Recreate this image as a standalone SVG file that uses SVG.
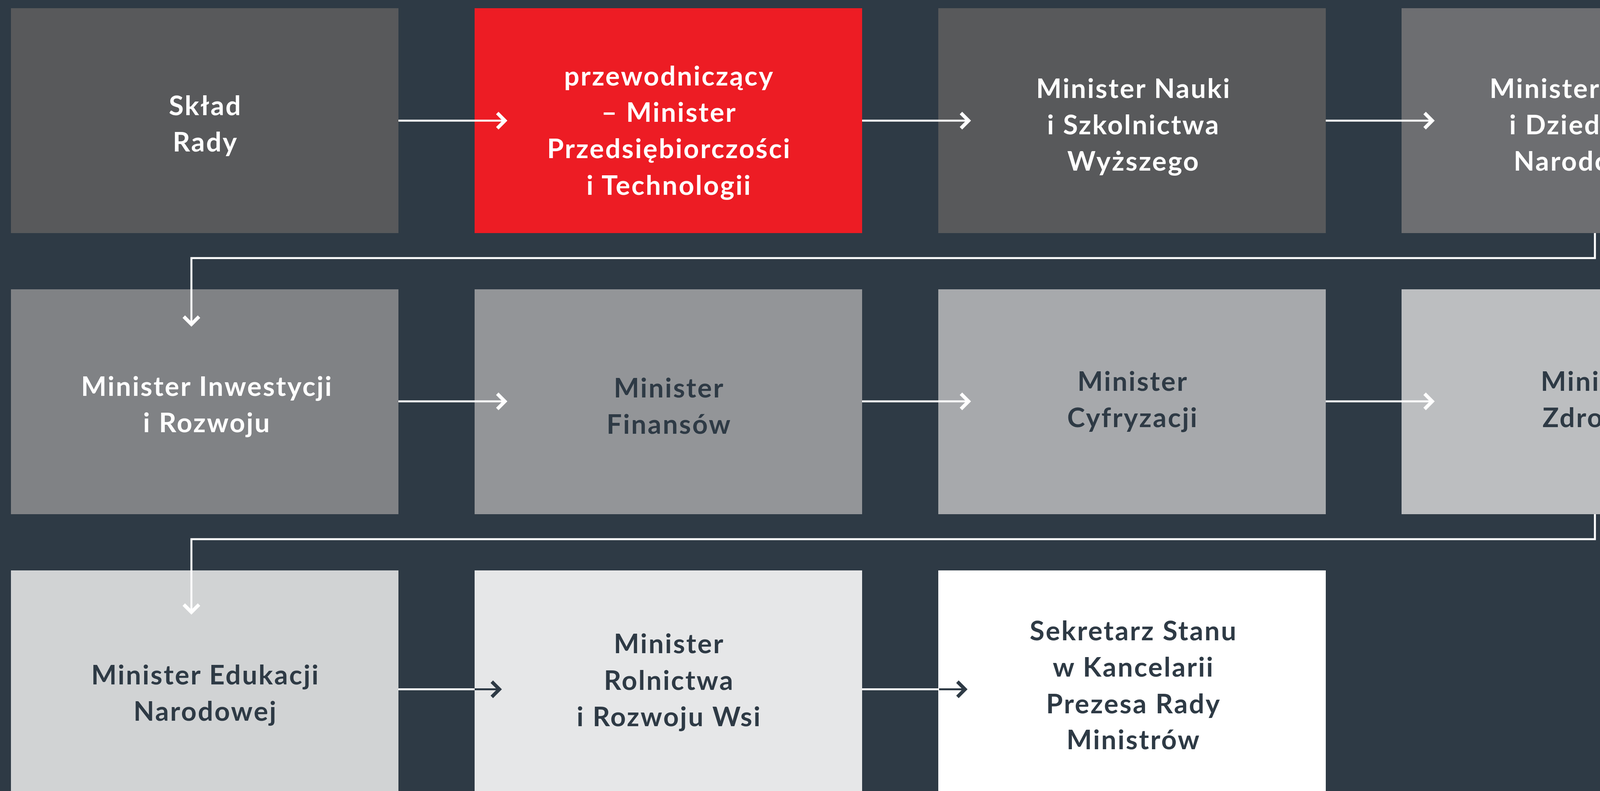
<svg xmlns="http://www.w3.org/2000/svg" width="4541" height="2026" viewBox="0 0 4541 2026">
  <defs>
    <style>
      .bg { fill: #2e3a45; }
      .t { font-family: Lato, "Open Sans", "Liberation Sans", sans-serif; font-weight: 700; font-size: 69px; letter-spacing: 3.3px; text-anchor: middle; }
      .tw { fill: #ffffff; }
      .td { fill: #2e3a45; }
      .ln { fill: none; stroke-width: 5; }
      .lw { stroke: #ffffff; }
      .ld { stroke: #2e3a45; }
      .hd { fill: none; stroke-width: 9; stroke-linejoin: miter; stroke-miterlimit: 10; }
    </style>
    <marker id="aw" markerUnits="userSpaceOnUse" viewBox="-40 -30 50 60" markerWidth="50" markerHeight="60" refX="0" refY="0" orient="auto" overflow="visible">
      <path class="hd" stroke="#ffffff" d="M-19.5,-19.5 L0,0 L-19.5,19.5"/>
    </marker>
    <marker id="ad" markerUnits="userSpaceOnUse" viewBox="-40 -30 50 60" markerWidth="50" markerHeight="60" refX="0" refY="0" orient="auto" overflow="visible">
      <path class="hd" stroke="#2e3a45" d="M-19.5,-19.5 L0,0 L-19.5,19.5"/>
    </marker>
  </defs>
  <rect class="bg" x="0" y="0" width="4541" height="2026"/>

  <g id="n1">
    <rect x="28" y="21" width="992" height="576" fill="#58595b"/>
    <text class="t tw"><tspan x="526" y="295">Skład</tspan><tspan x="526" y="388">Rady</tspan></text>
  </g>
  <g id="n2">
    <rect x="1215" y="21" width="992" height="576" fill="#ed1c24"/>
    <text class="t tw"><tspan x="1713" y="219">przewodniczący</tspan><tspan x="1713" y="312">– Minister</tspan><tspan x="1713" y="405">Przedsiębiorczości</tspan><tspan x="1713" y="499">i Technologii</tspan></text>
  </g>
  <g id="n3">
    <rect x="2402" y="21" width="992" height="576" fill="#58595b"/>
    <text class="t tw"><tspan x="2902" y="251">Minister Nauki</tspan><tspan x="2902" y="344">i Szkolnictwa</tspan><tspan x="2902" y="437">Wyższego</tspan></text>
  </g>
  <g id="n4">
    <rect x="3588" y="21" width="992" height="576" fill="#6d6e71"/>
    <text class="t tw"><tspan x="4090" y="251">Minister Kultury</tspan><tspan x="4090" y="344">i Dziedzictwa</tspan><tspan x="4090" y="437">Narodowego</tspan></text>
  </g>

  <g id="n5">
    <rect x="28" y="741" width="992" height="576" fill="#808285"/>
    <text class="t tw"><tspan x="530" y="1014">Minister Inwestycji</tspan><tspan x="530" y="1107">i Rozwoju</tspan></text>
  </g>
  <g id="n6">
    <rect x="1215" y="741" width="992" height="576" fill="#939598"/>
    <text class="t td"><tspan x="1713" y="1018">Minister</tspan><tspan x="1713" y="1111">Finansów</tspan></text>
  </g>
  <g id="n7">
    <rect x="2402" y="741" width="992" height="576" fill="#a7a9ac"/>
    <text class="t td"><tspan x="2900" y="1001">Minister</tspan><tspan x="2900" y="1094">Cyfryzacji</tspan></text>
  </g>
  <g id="n8">
    <rect x="3588" y="741" width="992" height="576" fill="#bcbec0"/>
    <text class="t td"><tspan x="4086" y="1001">Minister</tspan><tspan x="4086" y="1094">Zdrowia</tspan></text>
  </g>

  <g id="n9">
    <rect x="28" y="1461" width="992" height="576" fill="#d1d3d4"/>
    <text class="t td"><tspan x="526" y="1753">Minister Edukacji</tspan><tspan x="526" y="1846">Narodowej</tspan></text>
  </g>
  <g id="n10">
    <rect x="1215" y="1461" width="992" height="576" fill="#e6e7e8"/>
    <text class="t td"><tspan x="1713" y="1673">Minister</tspan><tspan x="1713" y="1767">Rolnictwa</tspan><tspan x="1713" y="1860">i Rozwoju Wsi</tspan></text>
  </g>
  <g id="n11">
    <rect x="2402" y="1461" width="992" height="576" fill="#ffffff"/>
    <text class="t td"><tspan x="2902" y="1640">Sekretarz Stanu</tspan><tspan x="2902" y="1733">w Kancelarii</tspan><tspan x="2902" y="1827">Prezesa Rady</tspan><tspan x="2902" y="1919">Ministrów</tspan></text>
  </g>

  <g id="connectors">
    <path class="ln lw" d="M1020,309 H1292.5" marker-end="url(#aw)"/>
    <path class="ln lw" d="M2207,309 H2479.5" marker-end="url(#aw)"/>
    <path class="ln lw" d="M3394,309 H3666.5" marker-end="url(#aw)"/>
    <path class="ln lw" d="M4083,597 V661 H490 V830.5" marker-end="url(#aw)"/>
    <path class="ln lw" d="M1020,1028 H1292.5" marker-end="url(#aw)"/>
    <path class="ln lw" d="M2207,1028 H2479.5" marker-end="url(#aw)"/>
    <path class="ln lw" d="M3394,1028 H3666.5" marker-end="url(#aw)"/>
    <path class="ln lw" d="M4083,1317 V1381 H490 V1568" marker-end="url(#aw)"/>
    <path class="ln lw" d="M1020,1765.5 H1215"/>
    <path class="ln ld" d="M1215,1765.5 H1278.5" marker-end="url(#ad)"/>
    <path class="ln lw" d="M2207,1765.5 H2402"/>
    <path class="ln ld" d="M2404,1765.5 H2470.5" marker-end="url(#ad)"/>
  </g>
</svg>
